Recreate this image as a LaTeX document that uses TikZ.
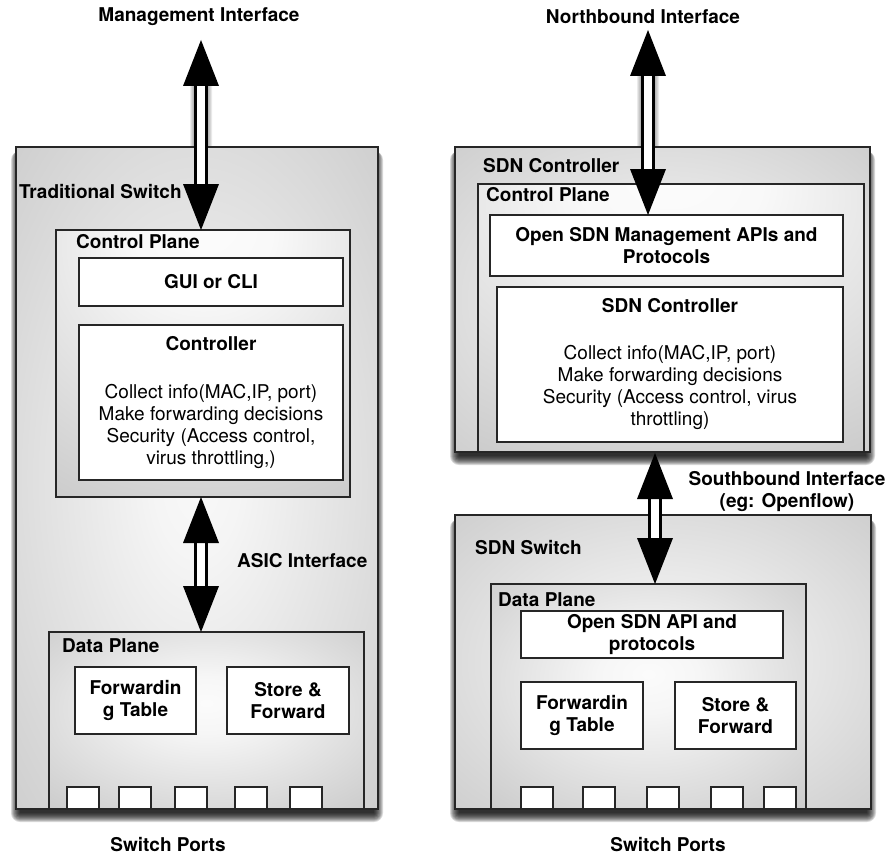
\documentclass[tikz,border=0pt]{standalone}
\usepackage{fontspec}
\setmainfont{TeX Gyre Heros}
\usetikzlibrary{calc}
\pgfdeclarelayer{bg}
\pgfsetlayers{bg,main}
\pgfdeclareradialshading{outershade}{\pgfpoint{0bp}{0bp}}{color(0bp)=(gray!5); color(6bp)=(gray!8); color(50bp)=(gray!52); color(72bp)=(gray!62)}
\pgfdeclareradialshading{cpshade}{\pgfpoint{0bp}{28bp}}{color(0bp)=(gray!2); color(12bp)=(gray!5); color(78bp)=(gray!70); color(110bp)=(gray!78)}
\pgfdeclareradialshading{dpshade}{\pgfpoint{0bp}{5bp}}{color(0bp)=(gray!3); color(8bp)=(gray!7); color(50bp)=(gray!55); color(72bp)=(gray!63)}
\newcommand\basefont{\fontsize{19}{22}\selectfont}
% soft shadow under a named node (drawn on background layer)
\newcommand\softshadow[1]{%
  \foreach \r in {0,1,...,9}{%
    \fill[black, opacity=0.15, rounded corners=\r pt]
      ($(#1.north west)+(4-\r,4)$) rectangle ($(#1.south east)+(\r-4,\r+4)$);
  }%
}
\newcommand\arrowshadow[2]{%
  \foreach \r in {0,1,2,3}{%
    \fill[black, opacity=0.08, rounded corners=\r pt]
      ($(#1)+(-8-\r,40)$) rectangle ($(#2)+(8+\r,-40+\r+2)$);
  }%
}
\newcommand\blockarrow[2]{%
  \draw[line width=3.5pt, fill=white] ($(#1)+(-5.5,44)$) rectangle ($(#2)+(5.5,-44)$);
  \fill[black] (#1) -- ($(#1)+(-18,46)$) -- ($(#1)+(18,46)$) -- cycle;
  \fill[black] (#2) -- ($(#2)+(-18,-46)$) -- ($(#2)+(18,-46)$) -- cycle;
}
\tikzset{
  frame/.style={draw=black!85, line width=1.1pt, inner sep=0pt, outer sep=0pt, anchor=north west},
  outerbox/.style={frame, shade, shading=outershade},
  cpbox/.style={frame, shade, shading=cpshade},
  dpbox/.style={frame, shade, shading=dpshade},
  wbox/.style={frame, fill=white, align=center, font=\basefont},
  bwbox/.style={wbox, font=\basefont\bfseries},
  port/.style={frame, fill=white, minimum width=32pt, minimum height=22pt},
  lbl/.style={inner sep=0pt, font=\basefont\bfseries},
}
\begin{document}
\begin{tikzpicture}[x=1pt, y=-1pt, font=\basefont]
\useasboundingbox (0,0) rectangle (890,856);

% ---------------- Left: Traditional switch ----------------
\node[outerbox, minimum width=362pt, minimum height=662pt] (tsw) at (16,147) {};
\node[cpbox, minimum width=294pt, minimum height=267pt] (cpL) at (56,230) {};
\node[bwbox, minimum width=264pt, minimum height=48pt] (gui) at (79,258) {GUI or CLI};
\node[wbox, minimum width=264pt, minimum height=155pt] (ctrlL) at (79,325)
  {\textbf{Controller}\\[26pt]Collect info(MAC,IP, port)\\Make forwarding decisions\\Security (Access control,\\virus throttling,)};
\node[dpbox, minimum width=315pt, minimum height=177pt] (dpL) at (49,632) {};
\node[bwbox, minimum width=121pt, minimum height=67pt] (ftL) at (75,667) {Forwardin\\g Table};
\node[bwbox, minimum width=122pt, minimum height=67pt] (sfL) at (227,667) {Store \&\\Forward};
\node[port] (pL1) at (67,787) {};
\node[port] (pL2) at (119,787) {};
\node[port] (pL3) at (175,787) {};
\node[port] (pL4) at (235,787) {};
\node[port] (pL5) at (290,787) {};

\node[lbl] (mgmt) at (199,17) {Management Interface};
\node[lbl, anchor=west] (tswl) at (19,192) {Traditional Switch};
\node[lbl, anchor=west] (cpLl) at (76,242) {Control Plane};
\node[lbl, anchor=west] (asic) at (237,561) {ASIC Interface};
\node[lbl, anchor=west] (dpLl) at (62,646) {Data Plane};
\node[lbl] (spL) at (168,845) {Switch Ports};

\coordinate (mgT) at (201,40);
\coordinate (mgB) at (mgT |- cpL.north);
\coordinate (asT) at (mgT |- cpL.south);
\coordinate (asB) at (mgT |- dpL.north);
\blockarrow{mgT}{mgB}
\blockarrow{asT}{asB}

% ---------------- Right: SDN ----------------
\node[outerbox, minimum width=415pt, minimum height=305pt] (ctl) at (455,147) {};
\node[cpbox, minimum width=386pt, minimum height=268pt] (cpR) at (478,184) {};
\node[bwbox, minimum width=353pt, minimum height=61pt] (api) at (490,215) {Open SDN Management APIs and\\Protocols};
\node[wbox, minimum width=346pt, minimum height=155pt] (ctrlR) at (497,287)
  {\textbf{SDN Controller}\\[25pt]Collect info(MAC,IP, port)\\Make forwarding decisions\\Security (Access control, virus\\throttling)};

\node[outerbox, minimum width=416pt, minimum height=294pt] (ssw) at (455,515) {};
\node[dpbox, minimum width=315pt, minimum height=225pt] (dpR) at (491,584) {};
\node[bwbox, minimum width=262pt, minimum height=47pt] (oapi) at (521,611) {Open SDN API and\\protocols};
\node[bwbox, minimum width=122pt, minimum height=67pt] (ftR) at (521,682) {Forwardin\\g Table};
\node[bwbox, minimum width=121pt, minimum height=67pt] (sfR) at (675,682) {Store \&\\Forward};
\node[port] (pR1) at (521,787) {};
\node[port] (pR2) at (583,787) {};
\node[port] (pR3) at (647,787) {};
\node[port] (pR4) at (711,787) {};
\node[port] (pR5) at (764,787) {};

\node[lbl] (nb) at (643,17) {Northbound Interface};
\node[lbl, anchor=west] (ctll) at (483,166) {SDN Controller};
\node[lbl, anchor=west] (cpRl) at (486,195) {Control Plane};
\node[lbl, align=center] (sb) at (787,492) {Southbound Interface\\(eg: Openflow)};
\node[lbl, anchor=west] (sswl) at (475,548) {SDN Switch};
\node[lbl, anchor=west] (dpRl) at (498,600) {Data Plane};
\node[lbl] (spR) at (668,845) {Switch Ports};

\coordinate (nbT) at (648,30);
\coordinate (nbB) at (nbT |- api.north);
\coordinate (sbT) at (655,453);
\coordinate (sbB) at (sbT |- dpR.north);
\blockarrow{nbT}{nbB}
\blockarrow{sbT}{sbB}

\begin{pgfonlayer}{bg}
  \fill[white] (0,0) rectangle (890,856);
  \softshadow{tsw}
  \softshadow{ctl}
  \softshadow{ssw}
  \arrowshadow{mgT}{mgB}
  \arrowshadow{nbT}{nbB}
\end{pgfonlayer}
\end{tikzpicture}
\end{document}
